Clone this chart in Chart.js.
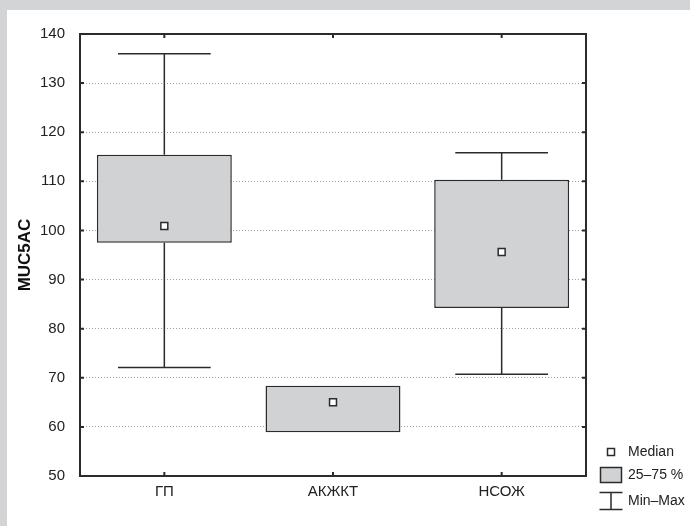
<!DOCTYPE html>
<html>
<head>
<meta charset="utf-8">
<script src="https://cdn.jsdelivr.net/npm/chart.js@4.4.1/dist/chart.umd.min.js"></script>
<style>
  html, body { margin: 0; padding: 0; background: #d3d4d6; }
  #panel { position: absolute; left: 7px; top: 10px; width: 683px; height: 516px; background: #fff; }
  canvas { display: block; }
</style>
</head>
<body>
<div id="panel"><canvas id="chart" width="683" height="516"></canvas></div>
<script>
const groups = ['ГП', 'АКЖКТ', 'НСОЖ'];
const minValues = [72.1, 58.9, 70.7];
const q1Values = [97.5, 58.9, 84.2];
const medianValues = [100.9, 65.0, 95.6];
const q3Values = [115.4, 68.4, 110.3];
const maxValues = [136.0, 68.4, 115.8];

const yMin = 50, yMax = 140, yStep = 10;
const legendLabels = ['Median', '25–75 %', 'Min–Max'];

const ink = '#2b2b2b';
const boxFill = '#d1d2d4';
const font = 'Liberation Sans, Arial, sans-serif';

// whiskers, frame, inside ticks and the legend
const boxPlotExtras = {
  id: 'boxPlotExtras',
  beforeDatasetsDraw(chart) {
    const { ctx, scales: { x, y } } = chart;
    const capHalf = (x.getPixelForValue(1) - x.getPixelForValue(0)) * 0.275;
    ctx.save();
    ctx.strokeStyle = ink;
    ctx.lineWidth = 1.5;
    ctx.beginPath();
    groups.forEach((g, i) => {
      const cx = x.getPixelForValue(i);
      if (maxValues[i] > q3Values[i]) {
        const yHi = y.getPixelForValue(maxValues[i]);
        ctx.moveTo(cx, y.getPixelForValue(q3Values[i])); ctx.lineTo(cx, yHi);
        ctx.moveTo(cx - capHalf, yHi); ctx.lineTo(cx + capHalf, yHi);
      }
      if (minValues[i] < q1Values[i]) {
        const yLo = y.getPixelForValue(minValues[i]);
        ctx.moveTo(cx, y.getPixelForValue(q1Values[i])); ctx.lineTo(cx, yLo);
        ctx.moveTo(cx - capHalf, yLo); ctx.lineTo(cx + capHalf, yLo);
      }
    });
    ctx.stroke();
    ctx.restore();
  },
  afterDraw(chart) {
    const { ctx, chartArea: a, scales: { x, y } } = chart;
    ctx.save();
    ctx.strokeStyle = ink;
    ctx.lineWidth = 2;
    ctx.strokeRect(a.left, a.top, a.right - a.left, a.bottom - a.top);
    ctx.beginPath();
    y.ticks.forEach((t, i) => {
      const py = y.getPixelForTick(i);
      ctx.moveTo(a.left, py); ctx.lineTo(a.left + 4, py);
      ctx.moveTo(a.right, py); ctx.lineTo(a.right - 4, py);
    });
    x.ticks.forEach((t, i) => {
      const px = x.getPixelForTick(i);
      ctx.moveTo(px, a.bottom); ctx.lineTo(px, a.bottom - 4);
      ctx.moveTo(px, a.top); ctx.lineTo(px, a.top + 4);
    });
    ctx.stroke();

    // legend
    const lx = a.right + 25;
    const tx = a.right + 42;
    const rows = [a.bottom - 24, a.bottom - 1, a.bottom + 25];
    ctx.lineWidth = 1.5;
    ctx.fillStyle = '#fff';
    ctx.fillRect(lx - 3.5, rows[0] - 3.5, 7, 7);
    ctx.strokeRect(lx - 3.5, rows[0] - 3.5, 7, 7);
    ctx.fillStyle = boxFill;
    ctx.fillRect(lx - 10.5, rows[1] - 7.5, 21, 15);
    ctx.strokeRect(lx - 10.5, rows[1] - 7.5, 21, 15);
    ctx.beginPath();
    ctx.moveTo(lx - 11.5, rows[2] - 8.5); ctx.lineTo(lx + 11.5, rows[2] - 8.5);
    ctx.moveTo(lx, rows[2] - 8.5); ctx.lineTo(lx, rows[2] + 8.5);
    ctx.moveTo(lx - 11.5, rows[2] + 8.5); ctx.lineTo(lx + 11.5, rows[2] + 8.5);
    ctx.stroke();
    ctx.fillStyle = '#222';
    ctx.font = '14px ' + font;
    ctx.textBaseline = 'middle';
    ctx.textAlign = 'left';
    legendLabels.forEach((txt, i) => ctx.fillText(txt, tx, rows[i]));
    ctx.restore();
  }
};

new Chart(document.getElementById('chart'), {
  data: {
    labels: groups,
    datasets: [
      {
        type: 'bar',
        label: '25–75 %',
        data: groups.map((g, i) => [q1Values[i], q3Values[i]]),
        backgroundColor: boxFill,
        borderColor: ink,
        borderWidth: 1.5,
        borderSkipped: false,
        barPercentage: 0.8,
        categoryPercentage: 1,
        order: 2
      },
      {
        type: 'line',
        label: 'Median',
        data: medianValues,
        showLine: false,
        pointStyle: 'rect',
        pointRadius: 4.9,
        pointBackgroundColor: '#fff',
        pointBorderColor: ink,
        pointBorderWidth: 1.5,
        order: 1
      }
    ]
  },
  options: {
    responsive: false,
    animation: false,
    layout: { padding: { top: 13, right: 104, bottom: 0, left: 0 } },
    plugins: { legend: { display: false }, tooltip: { enabled: false } },
    scales: {
      x: {
        type: 'category',
        afterFit(scale) { scale.height = 50; },
        grid: { display: false, drawTicks: false },
        border: { display: false },
        ticks: { color: '#222', padding: 7, font: { family: font, size: 15 } }
      },
      y: {
        min: yMin,
        max: yMax,
        afterFit(scale) { scale.width = 73; },
        grid: { color: '#a0a0a0', lineWidth: 1, drawTicks: false },
        border: { display: false, dash: [1, 2] },
        ticks: { stepSize: yStep, color: '#222', padding: 15, font: { family: font, size: 15 } },
        title: {
          display: true,
          text: 'MUC5AC',
          color: '#111',
          padding: { top: 8, bottom: 0 },
          font: { family: font, size: 17, weight: 'bold' }
        }
      }
    }
  },
  plugins: [boxPlotExtras]
});
</script>
</body>
</html>
